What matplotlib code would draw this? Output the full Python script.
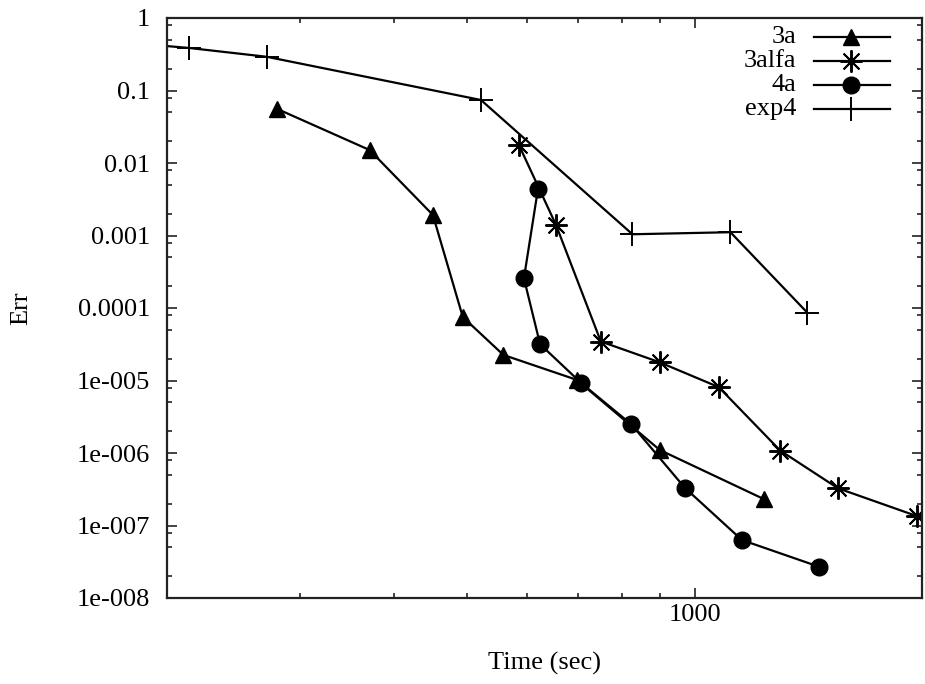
"""
Convergence of the error vs. wall time for four schemes (log-log, gnuplot look).
"""

import numpy as np
import matplotlib.pyplot as plt
from matplotlib.ticker import FixedLocator, FixedFormatter, LogLocator, NullFormatter

plt.rcParams['font.family'] = ['Liberation Serif', 'DejaVu Serif']
plt.rcParams['font.size'] = 19

# ── Data ──────────────────────────────────────────────────────────────────────
t_3a   = [280, 371, 450, 493, 558, 698, 899, 1234]
err_3a = [0.0556, 0.0151, 0.00192, 7.5e-5, 2.25e-5, 1.02e-5, 1.1e-6, 2.32e-7]

t_3alfa   = [585, 655, 751, 899, 1076, 1298, 1548, 1968]
err_3alfa = [0.0177, 0.0014, 3.45e-5, 1.78e-5, 8.1e-6, 1.08e-6, 3.26e-7, 1.35e-7]

t_4a   = [620, 594, 624, 708, 824, 970, 1155, 1461]
err_4a = [0.00438, 2.57e-4, 3.16e-5, 9.15e-6, 2.49e-6, 3.32e-7, 6.3e-8, 2.7e-8]

# first point lies left of the plotted range (only its line segment shows)
t_exp4   = [180, 214, 271, 521, 827, 1115, 1410]
err_exp4 = [0.45, 0.386, 0.292, 0.074, 0.00104, 0.00111, 8.6e-5]

labels = ["3a", "3alfa", "4a", "exp4"]

y_ticks      = [1, 0.1, 0.01, 1e-3, 1e-4, 1e-5, 1e-6, 1e-7, 1e-8]
y_ticklabels = ["1", "0.1", "0.01", "0.001", "0.0001",
                "1e-005", "1e-006", "1e-007", "1e-008"]
x_ticks      = [1000]
x_ticklabels = ["1000"]

# ── Styles ────────────────────────────────────────────────────────────────────
series = [
    (t_3a,    err_3a,    dict(marker="^", ms=12, mfc="black", mec="black")),
    (t_3alfa, err_3alfa, dict(marker=(8, 2, 0), ms=16, mew=1.4)),
    (t_4a,    err_4a,    dict(marker="o", ms=12, mfc="black", mec="black")),
    (t_exp4,  err_exp4,  dict(marker="+", ms=17, mew=1.4)),
]
lw = 1.6

# ── Plot ──────────────────────────────────────────────────────────────────────
fig = plt.figure(figsize=(9.25, 6.84), dpi=100)
ax = fig.add_axes([167 / 925, 1 - 598 / 684, 755 / 925, 580 / 684])

for (t, e, st) in series:
    ax.plot(t, e, color="black", lw=lw, **st)

ax.set_xscale("log")
ax.set_yscale("log")
ax.set_xlim(200, 2000)
ax.set_ylim(1e-8, 1)

ax.xaxis.set_major_locator(FixedLocator(x_ticks))
ax.xaxis.set_major_formatter(FixedFormatter(x_ticklabels))
ax.xaxis.set_minor_locator(LogLocator(base=10, subs=np.arange(2, 10)))
ax.xaxis.set_minor_formatter(NullFormatter())

ax.yaxis.set_major_locator(FixedLocator(y_ticks))
ax.yaxis.set_major_formatter(FixedFormatter(y_ticklabels))
ax.yaxis.set_minor_locator(LogLocator(base=10, subs=[2, 5, 8], numticks=20))
ax.yaxis.set_minor_formatter(NullFormatter())

ax.tick_params(which="both", direction="in", top=True, right=True,
               width=1.2, color="#222222")
ax.tick_params(which="major", length=7)
ax.tick_params(which="minor", length=3.5)
ax.tick_params(axis="y", which="major", pad=12)
ax.tick_params(axis="x", which="major", pad=4)
for sp in ax.spines.values():
    sp.set_linewidth(1.6)
    sp.set_color("#222222")

ax.set_xlabel("Time (sec)", labelpad=19)
ax.set_ylabel("Err", labelpad=32)

# gnuplot-style key: right-aligned text, line sample with marker on the right
row_y = [0.967, 0.926, 0.884, 0.843]
for (t, e, st), lab, yy in zip(series, labels, row_y):
    ax.text(0.834, yy, lab, ha="right", va="center", transform=ax.transAxes)
    ax.plot([0.857, 0.958], [yy, yy], color="black", lw=lw,
            transform=ax.transAxes, clip_on=False)
    ax.plot([0.906], [yy], color="black", lw=0, transform=ax.transAxes,
            clip_on=False, **st)

plt.savefig("out.png", dpi=100)
